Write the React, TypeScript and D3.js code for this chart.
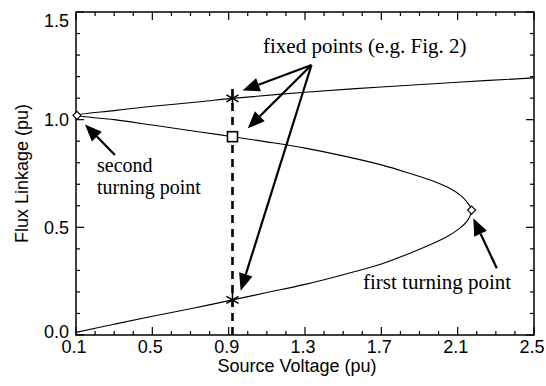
import React from "react";
import * as d3 from "d3";

// ---- data ----
// S-shaped flux-linkage curve: lower branch -> first turning point -> middle branch -> second turning point -> upper branch
const curveVoltage = [
  0.1, 0.3, 0.5, 0.7, 0.92, 1.1, 1.3, 1.5, 1.7, 1.85, 1.97, 2.05, 2.11, 2.15, 2.173,
  2.155, 2.12, 2.06, 1.97, 1.85, 1.7, 1.5, 1.3, 1.1, 0.92, 0.75, 0.5, 0.3, 0.105,
  0.3, 0.5, 0.75, 0.92, 1.3, 1.7, 2.1, 2.5,
];
const curveFlux = [
  0.012, 0.05, 0.087, 0.122, 0.163, 0.197, 0.235, 0.28, 0.33, 0.38, 0.425, 0.46, 0.495, 0.53, 0.58,
  0.61, 0.645, 0.68, 0.715, 0.75, 0.79, 0.832, 0.868, 0.897, 0.921, 0.943, 0.975, 1.0, 1.02,
  1.042, 1.062, 1.083, 1.099, 1.127, 1.152, 1.174, 1.194,
];

const turningVoltage = [2.173, 0.105];
const turningFlux = [0.58, 1.02];

const fixedVoltage = 0.92;
const stableFlux = [1.099, 0.163]; // asterisks
const unstableFlux = [0.921]; // square
const dashedTopFlux = 1.16;

const xMajorTicks = [0.1, 0.5, 0.9, 1.3, 1.7, 2.1, 2.5];
const xTickLabels = ["0.1", "0.5", "0.9", "1.3", "1.7", "2.1", "2.5"];
const yMajorTicks = [0, 0.5, 1.0, 1.5];
const yTickLabels = ["0.0", "0.5", "1.0", "1.5"];

// annotation arrows in data units: [tailV, tailFlux, tipV, tipFlux]
const arrowTails = [
  [0.304, 0.836],
  [1.334, 1.254],
  [1.334, 1.254],
  [1.334, 1.254],
  [2.305, 0.31],
];
const arrowTips = [
  [0.147, 0.978],
  [0.973, 1.135],
  [1.0, 0.96],
  [0.963, 0.206],
  [2.182, 0.542],
];

const W = 546;
const H = 386;
const left = 76, right = 534, top = 12, bottom = 335;

export default function App() {
  const x = d3.scaleLinear().domain([0.1, 2.5]).range([left, right]);
  const y = d3.scaleLinear().domain([0, 1.5]).range([bottom, top]);

  const pts = curveVoltage.map((v, i) => [v, curveFlux[i]] as [number, number]);
  const line = d3
    .line<[number, number]>()
    .x((d) => x(d[0]))
    .y((d) => y(d[1]))
    .curve(d3.curveCatmullRom.alpha(0.5));

  const xMinor = d3.range(1, 26).map((i) => i / 10);
  const yMinor = d3.range(0, 16).map((i) => i / 10);
  const isMajorX = (v: number) => xMajorTicks.some((m) => Math.abs(m - v) < 1e-6);
  const isMajorY = (v: number) => yMajorTicks.some((m) => Math.abs(m - v) < 1e-6);

  const sans = "'Liberation Sans', Arial, Helvetica, sans-serif";
  const serif = "'Liberation Serif', 'Times New Roman', serif";

  const arrow = (i: number) => {
    const x1 = x(arrowTails[i][0]), y1 = y(arrowTails[i][1]);
    const x2 = x(arrowTips[i][0]), y2 = y(arrowTips[i][1]);
    const ang = Math.atan2(y2 - y1, x2 - x1);
    const len = 17, hw = 7;
    const bx = x2 - len * Math.cos(ang), by = y2 - len * Math.sin(ang);
    const px = -Math.sin(ang), py = Math.cos(ang);
    return (
      <g key={"a" + i}>
        <line x1={x1} y1={y1} x2={bx} y2={by} stroke="#000" strokeWidth={2.2} />
        <polygon
          points={`${x2},${y2} ${bx + hw * px},${by + hw * py} ${bx - hw * px},${by - hw * py}`}
          fill="#000"
        />
      </g>
    );
  };

  const asterisk = (cx: number, cy: number, key: string) => {
    const r = 7;
    const arms = [90, 30, -30].map((deg) => {
      const a = (deg * Math.PI) / 180;
      return (
        <line
          key={deg}
          x1={cx - r * Math.cos(a)}
          y1={cy - r * Math.sin(a)}
          x2={cx + r * Math.cos(a)}
          y2={cy + r * Math.sin(a)}
          stroke="#000"
          strokeWidth={1.6}
        />
      );
    });
    return <g key={key}>{arms}</g>;
  };

  return (
    <svg
      width={W}
      height={H}
      style={{ position: "absolute", left: 0, top: 0, background: "#fff" }}
    >
      <rect x={0} y={0} width={W} height={H} fill="#fff" />
      <defs>
        <clipPath id="plotclip">
          <rect x={left} y={top} width={right - left} height={bottom - top} />
        </clipPath>
      </defs>

      {/* dashed vertical line */}
      <line
        x1={x(fixedVoltage)}
        x2={x(fixedVoltage)}
        y1={y(0)}
        y2={y(dashedTopFlux)}
        stroke="#000"
        strokeWidth={2.6}
        strokeDasharray="8,6"
      />

      {/* curve */}
      <path d={line(pts) || ""} fill="none" stroke="#000" strokeWidth={1.1} clipPath="url(#plotclip)" />

      {/* frame */}
      <rect x={left} y={top} width={right - left} height={bottom - top} fill="none" stroke="#000" strokeWidth={1.5} />

      {/* x ticks (bottom & top) */}
      {xMinor.map((v) => {
        const len = isMajorX(v) ? 8 : 4;
        return (
          <g key={"xt" + v}>
            <line x1={x(v)} x2={x(v)} y1={bottom} y2={bottom - len} stroke="#000" strokeWidth={1.2} />
            <line x1={x(v)} x2={x(v)} y1={top} y2={top + len} stroke="#000" strokeWidth={1.2} />
          </g>
        );
      })}
      {/* y ticks (left & right) */}
      {yMinor.map((v) => {
        const len = isMajorY(v) ? 8 : 4;
        return (
          <g key={"yt" + v}>
            <line x1={left} x2={left + len} y1={y(v)} y2={y(v)} stroke="#000" strokeWidth={1.2} />
            <line x1={right} x2={right - len} y1={y(v)} y2={y(v)} stroke="#000" strokeWidth={1.2} />
          </g>
        );
      })}

      {/* tick labels */}
      {xMajorTicks.map((v, i) => (
        <text key={"xl" + i} x={x(v) - 2} y={353} textAnchor="middle" fontFamily={sans} fontSize={18}>
          {xTickLabels[i]}
        </text>
      ))}
      {yMajorTicks.map((v, i) => (
        <text
          key={"yl" + i}
          x={69}
          y={Math.min(Math.max(y(v), top + 9), bottom - 3)}
          dy="0.35em"
          textAnchor="end"
          fontFamily={sans}
          fontSize={18}
        >
          {yTickLabels[i]}
        </text>
      ))}

      {/* axis titles */}
      <text x={(left + right) / 2 - 8} y={372} textAnchor="middle" fontFamily={sans} fontSize={18}>
        Source Voltage (pu)
      </text>
      <text
        transform={`translate(28, ${(top + bottom) / 2}) rotate(-90)`}
        textAnchor="middle"
        fontFamily={sans}
        fontSize={18}
      >
        Flux Linkage (pu)
      </text>

      {/* markers */}
      {turningVoltage.map((v, i) => {
        const cx = x(v), cy = y(turningFlux[i]);
        const r = 4;
        return (
          <polygon
            key={"d" + i}
            points={`${cx},${cy - r} ${cx + r},${cy} ${cx},${cy + r} ${cx - r},${cy}`}
            fill="#fff"
            stroke="#000"
            strokeWidth={1.2}
          />
        );
      })}
      {stableFlux.map((f, i) => asterisk(x(fixedVoltage), y(f), "s" + i))}
      {unstableFlux.map((f, i) => (
        <rect
          key={"u" + i}
          x={x(fixedVoltage) - 5}
          y={y(f) - 5}
          width={10}
          height={10}
          fill="#fff"
          stroke="#000"
          strokeWidth={1.6}
        />
      ))}

      {/* arrows */}
      {arrowTails.map((_, i) => arrow(i))}

      {/* annotations */}
      <text x={263} y={53} fontFamily={serif} fontSize={21}>
        fixed points (e.g. Fig. 2)
      </text>
      <text x={97} y={172} fontFamily={serif} fontSize={20}>
        second
      </text>
      <text x={97} y={194} fontFamily={serif} fontSize={20}>
        turning point
      </text>
      <text x={363} y={289} fontFamily={serif} fontSize={21}>
        first turning point
      </text>
    </svg>
  );
}
